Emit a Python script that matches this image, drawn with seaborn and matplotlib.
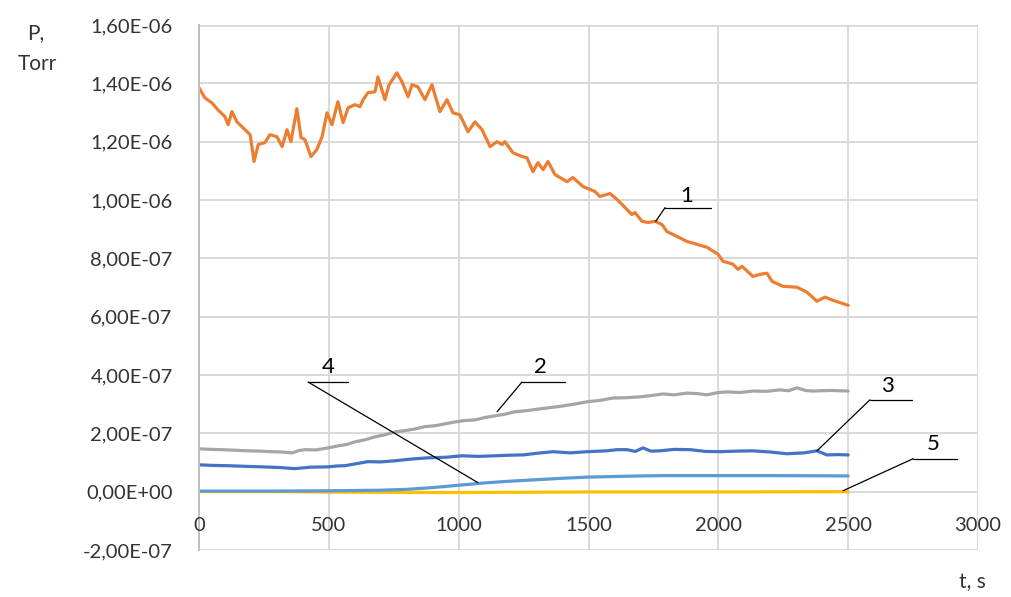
import matplotlib
matplotlib.use("Agg")
import matplotlib.pyplot as plt
import matplotlib.transforms as mtransforms
from matplotlib.ticker import FuncFormatter, MultipleLocator
import numpy as np
import pandas as pd
import seaborn as sns

# ---- data (time in s, pressure in Torr) ----
t1 = [0, 23, 50, 73, 100, 112, 127, 146, 169, 197, 212, 228, 254, 273, 300, 320,
      339, 354, 377, 393, 408, 431, 454, 474, 493, 512, 535, 555, 574, 601, 620,
      632, 651, 678, 689, 716, 732, 762, 782, 805, 820, 843, 870, 897, 928, 955,
      978, 1005, 1036, 1063, 1090, 1121, 1148, 1167, 1178, 1209, 1244, 1263, 1286,
      1305, 1325, 1344, 1371, 1417, 1440, 1479, 1525, 1544, 1583, 1610, 1641, 1667,
      1679, 1706, 1729, 1756, 1783, 1802, 1841, 1879, 1918, 1956, 1999, 2018, 2056,
      2076, 2091, 2133, 2160, 2187, 2207, 2249, 2303, 2341, 2380, 2411, 2442, 2500]
p1 = [13.85, 13.50, 13.33, 13.09, 12.86, 12.58, 13.03, 12.68, 12.48, 12.24, 11.32,
      11.90, 11.97, 12.24, 12.17, 11.83, 12.41, 12.00, 13.13, 12.14, 12.07, 11.49,
      11.73, 12.17, 12.99, 12.58, 13.37, 12.65, 13.16, 13.27, 13.20, 13.44, 13.68,
      13.71, 14.22, 13.44, 13.95, 14.36, 14.05, 13.54, 13.95, 13.88, 13.44, 13.95,
      13.03, 13.44, 12.99, 12.92, 12.34, 12.68, 12.41, 11.83, 12.00, 11.90, 12.00,
      11.62, 11.49, 11.45, 10.97, 11.28, 11.04, 11.32, 10.87, 10.63, 10.77, 10.46,
      10.29, 10.12, 10.22, 10.02, 9.74, 9.50, 9.57, 9.27, 9.23, 9.27, 9.16, 8.92,
      8.75, 8.58, 8.48, 8.38, 8.14, 7.90, 7.80, 7.62, 7.73, 7.38, 7.45, 7.49, 7.21,
      7.04, 7.01, 6.84, 6.53, 6.67, 6.56, 6.39]

t2 = [0, 45, 89, 140, 189, 235, 281, 320, 358, 385, 408, 450, 497, 535, 570, 601,
      640, 678, 715, 755, 790, 832, 870, 909, 950, 986, 1025, 1063, 1100, 1140,
      1180, 1217, 1265, 1313, 1360, 1402, 1450, 1494, 1545, 1594, 1645, 1698, 1745,
      1787, 1830, 1879, 1920, 1956, 2000, 2033, 2085, 2133, 2185, 2237, 2270, 2303,
      2335, 2364, 2430, 2500]
p2 = [1.47, 1.45, 1.44, 1.42, 1.40, 1.39, 1.37, 1.36, 1.33, 1.41, 1.44, 1.43, 1.50,
      1.57, 1.62, 1.71, 1.78, 1.88, 1.95, 2.05, 2.09, 2.15, 2.23, 2.26, 2.33, 2.39,
      2.44, 2.46, 2.54, 2.60, 2.66, 2.74, 2.78, 2.84, 2.89, 2.94, 3.01, 3.08, 3.13,
      3.21, 3.22, 3.25, 3.30, 3.35, 3.32, 3.38, 3.36, 3.32, 3.40, 3.42, 3.40, 3.45,
      3.44, 3.49, 3.46, 3.56, 3.47, 3.45, 3.47, 3.45]

t3 = [0, 55, 112, 175, 243, 305, 370, 430, 497, 530, 562, 600, 651, 700, 755, 820,
      882, 950, 1013, 1075, 1140, 1195, 1248, 1305, 1363, 1430, 1494, 1570, 1610,
      1648, 1680, 1710, 1740, 1775, 1830, 1891, 1950, 2006, 2070, 2133, 2200, 2264,
      2330, 2380, 2418, 2460, 2500]
p3 = [0.92, 0.90, 0.89, 0.87, 0.85, 0.83, 0.79, 0.84, 0.85, 0.88, 0.89, 0.95, 1.03,
      1.02, 1.06, 1.12, 1.16, 1.18, 1.23, 1.21, 1.23, 1.25, 1.26, 1.32, 1.37, 1.33,
      1.37, 1.40, 1.44, 1.44, 1.38, 1.50, 1.39, 1.40, 1.45, 1.44, 1.38, 1.37, 1.39,
      1.40, 1.36, 1.30, 1.33, 1.40, 1.26, 1.27, 1.26]

t4 = [0, 300, 500, 700, 800, 900, 1000, 1100, 1200, 1300, 1400, 1500, 1600, 1700,
      1800, 2000, 2200, 2500]
p4 = [0.02, 0.02, 0.03, 0.05, 0.08, 0.14, 0.22, 0.30, 0.36, 0.41, 0.46, 0.50,
      0.52, 0.54, 0.55, 0.55, 0.55, 0.54]

t5 = [0, 300, 600, 1000, 1500, 2000, 2500]
p5 = [0.00, 0.00, -0.02, -0.03, -0.01, -0.01, 0.00]

series_names = ["1", "2", "3", "4", "5"]
series_colors = ["#ED7D31", "#A5A5A5", "#4472C4", "#5B9BD5", "#FFC000"]
series_t = [t1, t2, t3, t4, t5]
series_p = [p1, p2, p3, p4, p5]
UNIT = 1e-7

# label text, label position, leader end (on the curve)
callouts = [
    ("1", (1879, 10.12), (1795, 1972, 9.74), (1759, 9.27)),
    ("2", (1313, 4.27), (1244, 1409, 3.76), (1148, 2.74)),
    ("4", (497, 4.27), (420, 574, 3.76), (1074, 0.31)),
    ("3", (2653, 3.62), (2584, 2746, 3.15), (2380, 1.40)),
    ("5", (2827, 1.64), (2750, 2919, 1.13), (2480, 0.03)),
]

x_ticks = [0, 500, 1000, 1500, 2000, 2500, 3000]

# ---- plotting ----
sns.set_theme(style="whitegrid")
plt.rcParams["font.family"] = ["Lato", "DejaVu Sans"]

fig = plt.figure(figsize=(10.11, 5.97), dpi=100)
ax = fig.add_axes([199 / 1011, 47 / 597, 779 / 1011, 525 / 597])

frames = []
for name, t, p in zip(series_names, series_t, series_p):
    frames.append(pd.DataFrame({"t": t, "P": np.array(p) * UNIT, "curve": name}))
df = pd.concat(frames, ignore_index=True)

draw_order = ["5", "4", "3", "2", "1"]
palette = dict(zip(series_names, series_colors))
for name in draw_order:
    sub = df[df["curve"] == name]
    sns.lineplot(data=sub, x="t", y="P", ax=ax, color=palette[name],
                 linewidth=2.3, legend=False, sort=True, estimator=None)

ax.set_xlim(0, 3000)
ax.set_ylim(-2e-7, 1.6e-6)
ax.set_xticks(x_ticks)
ax.set_xticklabels([])
ax.yaxis.set_major_locator(MultipleLocator(2e-7))
ax.yaxis.set_major_formatter(
    FuncFormatter(lambda v, pos: f"{v:.2E}".replace(".", ",")))
ax.tick_params(axis="y", length=0, pad=19, labelsize=14.5, labelcolor="#333333")
ax.tick_params(axis="x", length=0)
ax.set_xlabel("")
ax.set_ylabel("")

grid_color = "#d9d9d9"
ax.grid(True, color=grid_color, linewidth=1.4)
for side in ["top", "right", "bottom"]:
    ax.spines[side].set_visible(False)
ax.spines["left"].set_color("#bfbfbf")
ax.spines["left"].set_linewidth(1.4)
ax.axhline(-2e-7, color=grid_color, linewidth=2.0, zorder=0.5)
ax.axhline(1.6e-6, color=grid_color, linewidth=2.0, zorder=0.5)
ax.axvline(3000, color=grid_color, linewidth=2.0, zorder=0.5)

# x tick labels sit just below the zero line
lab_tr = mtransforms.offset_copy(ax.transData, fig=fig, x=0, y=-34, units="dots")
for xv in x_ticks:
    ax.text(xv, 0, str(xv), transform=lab_tr, ha="center", va="center",
            fontsize=14.5, color="#333333", clip_on=False)

# numbered callouts with leader lines
for label, (lx, ly), (ux0, ux1, uy), (ex, ey) in callouts:
    ax.plot([ux0, ux1], [uy * UNIT, uy * UNIT], color="black", linewidth=0.9,
            zorder=5)
    ax.plot([ux0, ex], [uy * UNIT, ey * UNIT], color="black", linewidth=0.9,
            zorder=5)
    ax.text(lx, ly * UNIT, label, ha="center", va="center", fontsize=16,
            color="black", zorder=6)

# axis captions
fig.text(27 / 1011, 1 - 33 / 597, "P,", ha="left", va="center", fontsize=15,
         color="#333333")
fig.text(37 / 1011, 1 - 64 / 597, "Torr", ha="center", va="center", fontsize=15,
         color="#333333")
fig.text(972 / 1011, 1 - 582 / 597, "t, s", ha="center", va="center",
         fontsize=15, color="#333333")

fig.savefig("out.png", dpi=100)
